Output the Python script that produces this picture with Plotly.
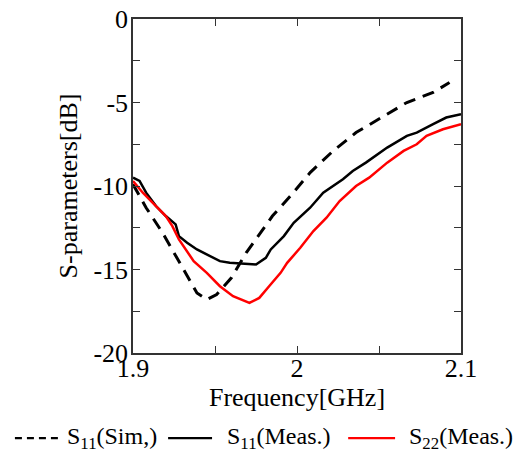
import plotly.graph_objects as go

sim_f = [1.900, 1.908, 1.918, 1.926, 1.933, 1.939, 1.945, 1.951, 1.960, 1.969, 1.985, 1.996,
         2.008, 2.022, 2.036, 2.053, 2.067, 2.083, 2.093]
sim_s11 = [-9.9, -11.3, -12.8, -14.2, -15.4, -16.4, -16.8, -16.5, -15.5, -14.0, -11.8, -10.6,
           -9.2, -7.9, -6.8, -5.8, -5.0, -4.4, -3.8]

meas_f = [1.900, 1.904, 1.908, 1.914, 1.920, 1.926, 1.928, 1.933, 1.939, 1.945, 1.953, 1.959,
          1.975, 1.981, 1.984, 1.992, 1.998, 2.008, 2.016, 2.028, 2.034, 2.042, 2.055, 2.067,
          2.073, 2.083, 2.091, 2.100]
meas_s11 = [-9.5, -9.7, -10.4, -11.2, -11.8, -12.3, -13.0, -13.4, -13.8, -14.1, -14.5, -14.6,
            -14.7, -14.3, -13.8, -13.0, -12.2, -11.3, -10.4, -9.6, -9.1, -8.6, -7.7, -7.0,
            -6.8, -6.3, -5.9, -5.7]

s22_f = [1.900, 1.906, 1.914, 1.920, 1.924, 1.928, 1.937, 1.945, 1.953, 1.961, 1.971, 1.977,
         1.983, 1.990, 1.994, 2.002, 2.010, 2.018, 2.026, 2.036, 2.044, 2.055, 2.065, 2.073,
         2.079, 2.089, 2.100]
meas_s22 = [-9.7, -10.4, -11.2, -11.8, -12.4, -13.2, -14.5, -15.2, -16.0, -16.6, -17.0, -16.7,
            -16.0, -15.2, -14.6, -13.7, -12.7, -11.9, -10.9, -10.0, -9.5, -8.6, -7.9, -7.5,
            -7.0, -6.6, -6.3]

series_names = ["S<sub>11</sub>(Sim,)", "S<sub>11</sub>(Meas.)", "S<sub>22</sub>(Meas.)"]

x_ticks = [1.9, 2.0, 2.1]
x_labels = ["1.9", "2", "2.1"]
y_ticks = [0, -5, -10, -15, -20]
y_labels = ["0", "-5", "-10", "-15", "-20"]

font = "Liberation Serif"
styles = [dict(color="black", width=3, dash="12px,8px"),
          dict(color="black", width=2.5),
          dict(color="#ff0000", width=2.5)]

fig = go.Figure()
for xs, ys, nm, st in zip([sim_f, meas_f, s22_f], [sim_s11, meas_s11, meas_s22], series_names, styles):
    fig.add_trace(go.Scatter(x=xs, y=ys, mode="lines", name=nm, line=st, showlegend=False))

axis_common = dict(showline=True, linecolor="#333333", linewidth=1.5, mirror="ticks",
                   ticks="inside", ticklen=7, tickcolor="#333333", tickwidth=1.2,
                   showgrid=False, zeroline=False, automargin=True,
                   ticklabeloverflow="allow",
                   tickfont=dict(family=font, size=26, color="black"))

fig.update_xaxes(range=[1.9, 2.1], tickvals=x_ticks, ticktext=x_labels,
                 minor=dict(dtick=0.05, tick0=1.9, ticks="inside", ticklen=7, tickcolor="#333333"),
                 ticklabelstandoff=-9,
                 title=dict(text="Frequency[GHz]", font=dict(family=font, size=26, color="black"),
                            standoff=6),
                 **axis_common)
fig.update_yaxes(range=[-20, 0], tickvals=y_ticks, ticktext=y_labels,
                 minor=dict(dtick=2.5, tick0=0, ticks="inside", ticklen=7, tickcolor="#333333"),
                 ticklabelstandoff=-2,
                 title=dict(text="S-parameters[dB]", font=dict(family=font, size=26, color="black"),
                            standoff=8),
                 **axis_common)

# Legend drawn below the plot (paper coordinates relative to plot area)
leg_y = -0.255
leg_lines = [(-0.360, -0.229), (0.107, 0.241), (0.656, 0.799)]
leg_text_x = [-0.207, 0.281, 0.835]
leg_dash = ["7px,5px", "solid", "solid"]
for (x0, x1), tx, nm, st, dsh in zip(leg_lines, leg_text_x, series_names, styles, leg_dash):
    fig.add_shape(type="line", xref="paper", yref="paper", x0=x0, x1=x1, y0=leg_y, y1=leg_y,
                  line=dict(color=st["color"], width=2.2, dash=dsh))
    fig.add_annotation(xref="paper", yref="paper", x=tx, y=leg_y, xanchor="left", yanchor="middle",
                       text=nm, showarrow=False, font=dict(family=font, size=24, color="black"))

fig.update_layout(
    width=523, height=447,
    margin=dict(l=125, r=70, t=11, b=102, autoexpand=False),
    plot_bgcolor="white", paper_bgcolor="white",
    font=dict(family=font, size=26, color="black"),
    showlegend=False,
)

fig.write_html("out.html")
